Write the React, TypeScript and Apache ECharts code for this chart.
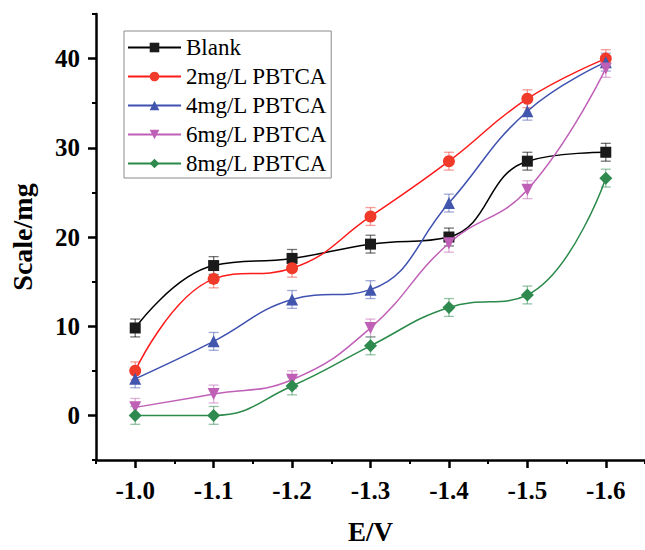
import React, { useEffect, useRef } from "react";
import * as echarts from "echarts";

const xValues = [-1.0, -1.1, -1.2, -1.3, -1.4, -1.5, -1.6];
const xTickLabels = [-1.0, -1.1, -1.2, -1.3, -1.4, -1.5, -1.6];
const xMinorTicks = [-0.95, -1.05, -1.15, -1.25, -1.35, -1.45, -1.55, -1.65];
const yTickLabels = [0, 10, 20, 30, 40];
const yMinorTicks = [-5, 5, 15, 25, 35, 45];

const seriesNames = ["Blank", "2mg/L PBTCA", "4mg/L PBTCA", "6mg/L PBTCA", "8mg/L PBTCA"];
const blank = [9.8, 16.8, 17.6, 19.2, 20.0, 28.5, 29.5];
const pbtca2 = [5.0, 15.3, 16.5, 22.3, 28.5, 35.5, 40.0];
const pbtca4 = [4.1, 8.3, 13.0, 14.1, 23.8, 34.1, 39.6];
const pbtca6 = [0.9, 2.4, 4.0, 9.8, 19.3, 25.3, 38.9];
const pbtca8 = [0.0, 0.0, 3.3, 7.8, 12.1, 13.5, 26.6];
const blankErr = [1.0, 1.0, 1.0, 1.0, 1.0, 1.0, 1.0];
const pbtca2Err = [1.0, 1.0, 1.0, 1.0, 1.0, 1.0, 1.0];
const pbtca4Err = [1.0, 1.0, 1.0, 1.0, 1.0, 1.0, 1.0];
const pbtca6Err = [1.0, 1.0, 1.0, 1.0, 1.0, 1.0, 1.0];
const pbtca8Err = [1.0, 1.0, 1.0, 1.0, 1.0, 1.0, 1.0];

const allValues = [blank, pbtca2, pbtca4, pbtca6, pbtca8];
const allErrors = [blankErr, pbtca2Err, pbtca4Err, pbtca6Err, pbtca8Err];
const lineColors = ["#000000", "#ff1a1a", "#3f51b0", "#c060b8", "#2a8a4a"];
const markerColors = ["#1a1a1a", "#f03a2a", "#4356ad", "#bf5fb5", "#2e8a4e"];
const errColors = [
  "rgba(0,0,0,0.55)",
  "rgba(240,60,50,0.5)",
  "rgba(67,86,173,0.5)",
  "rgba(190,95,180,0.5)",
  "rgba(46,138,78,0.5)",
];
const symbols = ["rect", "circle", "triangle", "triangle", "diamond"];
const symbolSizes = [11, 12, 12, 12, 13];
const symbolRotates = [0, 0, 0, 180, 0];

const FONT = "'Times New Roman', 'Liberation Serif', serif";

export default function App() {
  const ref = useRef<HTMLDivElement>(null);
  useEffect(() => {
    if (!ref.current) return;
    const chart = echarts.init(ref.current, undefined, { renderer: "svg" });

    const errSeries = allValues.map((vals, si) => ({
      type: "custom",
      name: seriesNames[si] + " err",
      xAxisIndex: 0,
      yAxisIndex: 0,
      z: 1,
      data: xValues.map((x, i) => [x, vals[i] - allErrors[si][i], vals[i] + allErrors[si][i]]),
      renderItem: (params: any, api: any) => {
        const x = api.value(0);
        const top = api.coord([x, api.value(2)]);
        const bot = api.coord([x, api.value(1)]);
        const hw = 5;
        const style = { stroke: errColors[si], lineWidth: 1.3 };
        return {
          type: "group",
          children: [
            { type: "line", shape: { x1: top[0], y1: top[1], x2: bot[0], y2: bot[1] }, style },
            { type: "line", shape: { x1: top[0] - hw, y1: top[1], x2: top[0] + hw, y2: top[1] }, style },
            { type: "line", shape: { x1: bot[0] - hw, y1: bot[1], x2: bot[0] + hw, y2: bot[1] }, style },
          ],
        };
      },
    }));

    const lineSeries = allValues.map((vals, si) => ({
      type: "line",
      name: seriesNames[si],
      xAxisIndex: 0,
      yAxisIndex: 0,
      z: 3,
      smooth: 0.45,
      symbol: symbols[si],
      symbolSize: symbolSizes[si],
      symbolRotate: symbolRotates[si],
      lineStyle: { color: lineColors[si], width: 1.5 },
      itemStyle: { color: markerColors[si] },
      data: xValues.map((x, i) => [x, vals[i]]),
    }));

    chart.setOption({
      animation: false,
      backgroundColor: "#ffffff",
      textStyle: { fontFamily: FONT },
      grid: { left: 96, top: 14, width: 555, height: 453, containLabel: false },
      legend: {
        data: seriesNames,
        orient: "vertical",
        left: 124,
        top: 31,
        padding: [5, 4, 3, 3],
        itemGap: 6,
        itemWidth: 53,
        itemHeight: 12,
        borderColor: "#8a8a8a",
        borderWidth: 1,
        textStyle: { fontFamily: FONT, fontSize: 23, color: "#000", lineHeight: 23 },
      },
      xAxis: [
        {
          type: "value",
          inverse: true,
          min: -1.65,
          max: -0.95,
          name: "E/V",
          nameLocation: "middle",
          nameGap: 58,
          nameTextStyle: { fontFamily: FONT, fontSize: 27, fontWeight: "bold", color: "#000" },
          axisLine: { onZero: false, lineStyle: { color: "#000", width: 2.5 } },
          axisTick: { show: true, inside: false, length: 8, lineStyle: { width: 2.5, color: "#000" }, customValues: xTickLabels },
          axisLabel: {
            customValues: xTickLabels,
            margin: 18,
            fontFamily: FONT,
            fontSize: 25,
            fontWeight: "bold",
            color: "#000",
            formatter: (v: number) => v.toFixed(1),
          },
          splitLine: { show: false },
        },
        {
          type: "value",
          inverse: true,
          min: -1.65,
          max: -0.95,
          position: "bottom",
          axisLine: { show: false, onZero: false },
          axisTick: { show: true, inside: false, length: 4, lineStyle: { width: 2, color: "#000" }, customValues: xMinorTicks },
          axisLabel: { show: false },
          splitLine: { show: false },
        },
      ],
      yAxis: [
        {
          type: "value",
          min: -5,
          max: 45,
          name: "Scale/mg",
          nameLocation: "middle",
          nameGap: 60,
          nameTextStyle: { fontFamily: FONT, fontSize: 28, fontWeight: "bold", color: "#000" },
          axisLine: { show: true, onZero: false, lineStyle: { color: "#000", width: 2.5 } },
          axisTick: { show: true, inside: false, length: 8, lineStyle: { width: 2.5, color: "#000" }, customValues: yTickLabels },
          axisLabel: {
            customValues: yTickLabels,
            margin: 16,
            fontFamily: FONT,
            fontSize: 25,
            fontWeight: "bold",
            color: "#000",
          },
          splitLine: { show: false },
        },
        {
          type: "value",
          min: -5,
          max: 45,
          position: "left",
          axisLine: { show: false, onZero: false },
          axisTick: { show: true, inside: false, length: 4, lineStyle: { width: 2, color: "#000" }, customValues: yMinorTicks },
          axisLabel: { show: false },
          splitLine: { show: false },
        },
      ],
      series: [...errSeries, ...lineSeries],
    });
    return () => chart.dispose();
  }, []);

  return (
    <div
      ref={ref}
      style={{ position: "fixed", left: 0, top: 0, width: 645, height: 550, background: "#fff" }}
    />
  );
}
